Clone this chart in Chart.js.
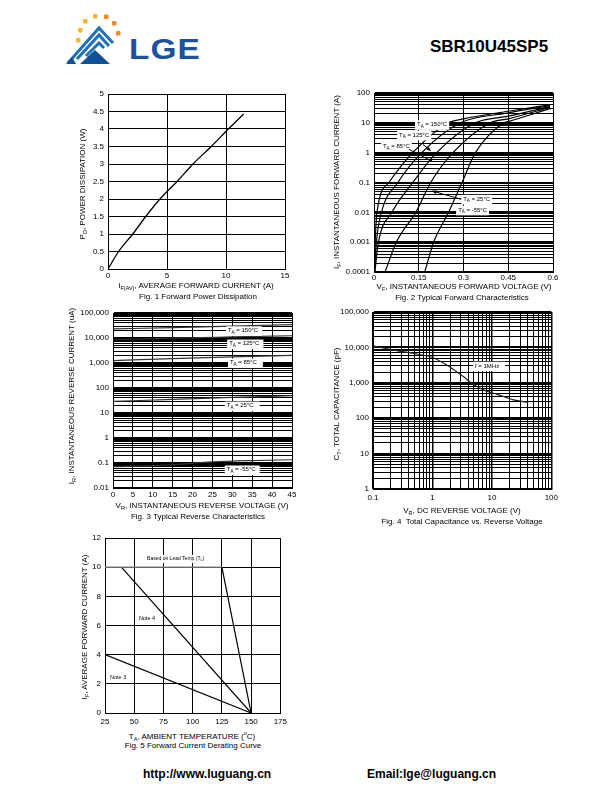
<!DOCTYPE html>
<html><head><meta charset="utf-8">
<script src="https://cdn.jsdelivr.net/npm/chart.js@4.4.1/dist/chart.umd.min.js"></script>
<style>
body{margin:0;width:612px;height:792px;position:relative;background:#fff;font-family:"Liberation Sans",Arial,sans-serif;overflow:hidden}
canvas{position:absolute}
.t{position:absolute;white-space:nowrap;font-size:8px;line-height:8px;color:#000;transform:translate(-50%,-50%)}
.v{position:absolute;white-space:nowrap;font-size:8px;line-height:8px;color:#000;transform:translate(-50%,-50%) rotate(-90deg)}
.t sub,.v sub{font-size:5.5px;vertical-align:-2px;line-height:0}
.hdr{position:absolute;white-space:nowrap;font-weight:bold;color:#000}
</style></head>
<body>
<svg style="position:absolute;left:0;top:0" width="240" height="80">
  <g fill="#f7b52c"><rect x="76" y="38" width="4.5" height="4.5" rx="1"/><rect x="78" y="28" width="4.5" height="4.5" rx="1"/><rect x="83" y="19" width="4.5" height="4.5" rx="1"/><rect x="93" y="14" width="4.5" height="4.5" rx="1"/></g>
  <g fill="#f08a24"><rect x="104" y="14.5" width="4.5" height="4.5" rx="1"/><rect x="112" y="21" width="4.5" height="4.5" rx="1"/><rect x="116" y="31" width="4.5" height="4.5" rx="1"/></g>
  <g fill="none" stroke="#1c6fba" stroke-width="3" stroke-linejoin="miter">
    <polyline points="68,63 99,28 113,43"/>
    <polyline points="77,59 99,35 109,46"/>
    <polyline points="86,56 99,43 104,48"/>
  </g>
  <polygon points="80,64 95,50 110,64" fill="#0f4f96"/>
  <polygon points="66,64 72,57 76,64" fill="#0f4f96"/>
</svg>
<div class="hdr" style="left:129px;top:33px;font-size:29px;color:#1d519f;letter-spacing:1px;transform:scaleX(1.15);transform-origin:left">LGE</div>
<div class="hdr" style="left:430px;top:37px;font-size:17px">SBR10U45SP5</div>

<canvas id="c1" width="217" height="199" style="left:78px;top:84px"></canvas>
<canvas id="c2" width="225" height="203" style="left:338px;top:83px"></canvas>
<canvas id="c3" width="221" height="199" style="left:79px;top:303px"></canvas>
<canvas id="c4" width="223" height="201" style="left:339px;top:302px"></canvas>
<canvas id="c5" width="206" height="199" style="left:85px;top:528px"></canvas>

<div class="t" style="left:196px;top:286px">I<sub>F(AV)</sub>, AVERAGE FORWARD CURRENT (A)</div>
<div class="t" style="left:198px;top:297px">Fig. 1 Forward Power Dissipation</div>
<div class="v" style="left:83px;top:184px">P<sub>D</sub>, POWER DISSIPATION (W)</div>

<div class="t" style="left:464px;top:287px">V<sub>F</sub>, INSTANTANEOUS FORWARD VOLTAGE (V)</div>
<div class="t" style="left:462px;top:298px">Fig. 2 Typical Forward Characteristics</div>
<div class="v" style="left:337px;top:182px">I<sub>F</sub>, INSTANTANEOUS FORWARD CURRENT (A)</div>

<div class="t" style="left:202px;top:506px">V<sub>R</sub>, INSTANTANEOUS REVERSE VOLTAGE (V)</div>
<div class="t" style="left:198px;top:517px">Fig. 3 Typical Reverse Characteristics</div>
<div class="v" style="left:72px;top:396px">I<sub>R</sub>, INSTANTANEOUS REVERSE CURRENT (uA)</div>

<div class="t" style="left:462px;top:511px">V<sub>R</sub>, DC REVERSE VOLTAGE (V)</div>
<div class="t" style="left:462px;top:522px">Fig. 4&nbsp; Total Capacitance vs. Reverse Voltage</div>
<div class="v" style="left:337px;top:404px">C<sub>T</sub>, TOTAL CAPACITANCE (pF)</div>

<div class="t" style="left:192px;top:735px">T<sub>A</sub>, AMBIENT TEMPERATURE (<sup style="font-size:5.5px">o</sup>C)</div>
<div class="t" style="left:193px;top:746px">Fig. 5 Forward Current Derating Curve</div>
<div class="v" style="left:85px;top:627px">I<sub>F</sub>, AVERAGE FORWARD CURRENT (A)</div>

<div class="hdr" style="left:143px;top:767px;font-size:12px">http://www.luguang.cn</div>
<div class="hdr" style="left:367px;top:767px;font-size:12px">Email:lge@luguang.cn</div>

<script>
// ---------- Fig. 1 data ----------
const fig1Current = [0, 0.9, 2.1, 3.2, 4.4, 5.85, 7.2, 8.75, 10.2, 11.5];
const fig1Power   = [0, 0.5, 1.0, 1.5, 2.0, 2.5, 3.0, 3.5, 4.0, 4.43];

// ---------- Fig. 2 data ----------
const fig2V150 = [0.001, 0.004, 0.01, 0.05, 0.13, 0.25, 0.30, 0.45, 0.59];
const fig2I150 = [0.0001, 0.001, 0.01, 0.1, 1, 10, 13.6, 24.5, 40];
const fig2V125 = [0.002, 0.008, 0.025, 0.08, 0.16, 0.29, 0.45, 0.59];
const fig2I125 = [0.0001, 0.001, 0.01, 0.1, 1, 10, 21.5, 38];
const fig2V85  = [0.003, 0.015, 0.06, 0.13, 0.21, 0.34, 0.45, 0.59];
const fig2I85  = [0.0001, 0.001, 0.01, 0.1, 1, 10, 16.7, 35];
const fig2V25  = [0.037, 0.075, 0.14, 0.19, 0.265, 0.39, 0.45, 0.59];
const fig2I25  = [0.0001, 0.001, 0.01, 0.1, 1, 10, 13.6, 33];
const fig2Vm55 = [0.17, 0.2, 0.25, 0.295, 0.34, 0.435, 0.45, 0.59];
const fig2Im55 = [0.0001, 0.001, 0.01, 0.1, 1, 10, 11, 30];
const fig2XTicks = [0, 0.15, 0.3, 0.45, 0.6];
const fig2XLabels = ['0', '0.15', '0.3', '0.45', '0.6'];
const fig2YDecades = [0.0001, 0.001, 0.01, 0.1, 1, 10, 100];
const fig2YLabels = ['0.0001', '0.001', '0.01', '0.1', '1', '10', '100'];

// ---------- Fig. 3 data ----------
const fig3V = [0, 15, 30, 45];
const fig3I150 = [23000, 26000, 30000, 34000];
const fig3I125 = [8500, 9800, 11000, 12300];
const fig3I85  = [1250, 1500, 1750, 2000];
const fig3I25  = [29, 35, 42, 49];
const fig3Vm55 = [0, 10, 15, 25, 35, 45];
const fig3Im55 = [0.072, 0.078, 0.085, 0.11, 0.125, 0.135];
const fig3YDecades = [0.01, 0.1, 1, 10, 100, 1000, 10000, 100000];
const fig3YLabels = ['0.01', '0.1', '1', '10', '100', '1,000', '10,000', '100,000'];

// ---------- Fig. 4 data ----------
const fig4V = [0.1, 0.25, 0.55, 1, 1.74, 3.3, 4.9, 8.1, 12, 23, 41];
const fig4C = [11000, 8100, 6500, 5200, 3200, 1500, 890, 580, 480, 330, 280];
const fig4XDecades = [0.1, 1, 10, 100];
const fig4XLabels = ['0.1', '1', '10', '100'];
const fig4YDecades = [1, 10, 100, 1000, 10000, 100000];
const fig4YLabels = ['1', '10', '100', '1,000', '10,000', '100,000'];

// ---------- Fig. 5 data ----------
const fig5LeadT = [25, 125, 150];
const fig5LeadI = [10, 10, 0];
const fig5Note4T = [39, 150];
const fig5Note4I = [10, 0];
const fig5Note3T = [25, 150];
const fig5Note3I = [4, 0];

// ---------- helpers ----------
const FONT = {family: '"Liberation Sans", Arial, sans-serif', size: 8};
function pts(xs, ys) { return xs.map((x, i) => ({x, y: ys[i]})); }
function logTickValues(min, max) {
  const t = [];
  const e0 = Math.round(Math.log10(min)), e1 = Math.round(Math.log10(max));
  for (let e = e0; e < e1; e++) for (let m = 1; m < 10; m++) t.push(parseFloat((m * Math.pow(10, e)).toPrecision(3)));
  t.push(max);
  return t;
}
function isIn(v, arr) { return arr.some(d => Math.abs(d - v) / d < 1e-6); }
function labelFor(v, arr, labels) { const i = arr.findIndex(d => Math.abs(d - v) / Math.abs(d || 1) < 1e-6 || (d === 0 && Math.abs(v) < 1e-9)); return i >= 0 ? labels[i] : ''; }

function axis(o) {
  const s = {
    type: o.type, min: o.min, max: o.max,
    ticks: {font: FONT, color: '#000', padding: o.pad, autoSkip: false, maxRotation: 0, minRotation: 0},
    grid: {color: '#000', lineWidth: o.lw || 1, drawTicks: false},
    border: {color: '#000', width: 1},
    afterFit: o.fit
  };
  if (o.step) s.ticks.stepSize = o.step;
  if (o.values) s.afterBuildTicks = sc => { sc.ticks = o.values.map(v => ({value: v})); };
  if (o.cb) s.ticks.callback = o.cb;
  return s;
}

function notes(items) {
  return {
    id: 'notes',
    afterDatasetsDraw(chart) {
      const ctx = chart.ctx, xs = chart.scales.x, ys = chart.scales.y;
      ctx.save();
      items.forEach(it => {
        if (it.arrow) {
          const x1 = xs.getPixelForValue(it.arrow[0]), y1 = ys.getPixelForValue(it.arrow[1]);
          const x2 = xs.getPixelForValue(it.arrow[2]), y2 = ys.getPixelForValue(it.arrow[3]);
          ctx.strokeStyle = '#000'; ctx.fillStyle = '#000'; ctx.lineWidth = 1;
          ctx.beginPath(); ctx.moveTo(x1, y1); ctx.lineTo(x2, y2); ctx.stroke();
          const a = Math.atan2(y2 - y1, x2 - x1), L = 4.5, W = 0.45;
          ctx.beginPath(); ctx.moveTo(x2, y2);
          ctx.lineTo(x2 - L * Math.cos(a - W), y2 - L * Math.sin(a - W));
          ctx.lineTo(x2 - L * Math.cos(a + W), y2 - L * Math.sin(a + W));
          ctx.closePath(); ctx.fill();
          return;
        }
        const f = it.size || 6, fs = f * 0.75;
        const x = xs.getPixelForValue(it.x), y = ys.getPixelForValue(it.y);
        ctx.font = f + 'px "Liberation Sans", Arial, sans-serif';
        const w1 = ctx.measureText(it.main).width, w3 = ctx.measureText(it.rest || '').width;
        ctx.font = fs + 'px "Liberation Sans", Arial, sans-serif';
        const w2 = ctx.measureText(it.sub || '').width;
        const w = w1 + w2 + w3;
        if (it.box !== false) {
          ctx.fillStyle = '#fff';
          ctx.fillRect(x - 2, y - f * 0.7, w + 4 + (it.extra || 0), f * 1.6);
        }
        ctx.fillStyle = '#000'; ctx.textBaseline = 'middle'; ctx.textAlign = 'left';
        ctx.font = f + 'px "Liberation Sans", Arial, sans-serif';
        ctx.fillText(it.main, x, y);
        ctx.font = fs + 'px "Liberation Sans", Arial, sans-serif';
        if (it.sub) ctx.fillText(it.sub, x + w1, y + f * 0.35);
        ctx.font = f + 'px "Liberation Sans", Arial, sans-serif';
        if (it.rest) ctx.fillText(it.rest, x + w1 + w2, y);
      });
      ctx.restore();
    }
  };
}

function line(data, extra) {
  return Object.assign({data, showLine: true, borderColor: '#000', borderWidth: 1.2, pointRadius: 0, fill: false, cubicInterpolationMode: 'monotone'}, extra || {});
}

function makeChart(id, datasets, xs, ys, pad, plugins) {
  return new Chart(document.getElementById(id), {
    type: 'scatter',
    data: {datasets},
    options: {
      responsive: false, animation: false, events: [],
      layout: {padding: {top: pad.t, right: pad.r, left: 0, bottom: 0}},
      plugins: {legend: {display: false}, tooltip: {enabled: false}},
      scales: {x: xs, y: ys}
    },
    plugins: plugins || []
  });
}

// ---------- Fig. 1 ----------
makeChart('c1',
  [line(pts(fig1Current, fig1Power), {borderWidth: 1.3})],
  axis({type: 'linear', min: 0, max: 15, step: 5, pad: 2, fit: s => { s.height = 14; }}),
  axis({type: 'linear', min: 0, max: 5, step: 0.5, pad: 4, fit: s => { s.width = 30; }, cb: v => String(v)}),
  {t: 10, r: 10});

// ---------- Fig. 2 ----------
const fig2Y = axis({type: 'logarithmic', min: 0.0001, max: 100, pad: 4, fit: s => { s.width = 36; },
  values: logTickValues(0.0001, 100), cb: v => labelFor(v, fig2YDecades, fig2YLabels)});
fig2Y.grid.lineWidth = c => (c.tick && isIn(c.tick.value, fig2YDecades)) ? 2 : 1;
makeChart('c2',
  [line(pts(fig2V150, fig2I150)), line(pts(fig2V125, fig2I125)), line(pts(fig2V85, fig2I85)),
   line(pts(fig2V25, fig2I25)), line(pts(fig2Vm55, fig2Im55))],
  axis({type: 'linear', min: 0, max: 0.6, pad: 1, fit: s => { s.height = 14; }, values: fig2XTicks,
    cb: v => labelFor(v, fig2XTicks, fig2XLabels)}),
  fig2Y, {t: 10, r: 10},
  [notes([
    {x: 0.144, y: 8.8, main: 'T', sub: 'A', rest: ' = 150°C'},
    {x: 0.084, y: 3.9, main: 'T', sub: 'A', rest: ' = 125°C'},
    {x: 0.03, y: 1.6, main: 'T', sub: 'A', rest: ' = 85°C'},
    {arrow: [0.164, 1.9, 0.19, 1.15]},
    {arrow: [0.117, 1.29, 0.197, 0.5]},
    {arrow: [0.3, 0.026, 0.195, 0.052]},
    {x: 0.299, y: 0.028, main: 'T', sub: 'A', rest: ' = 25°C'},
    {x: 0.282, y: 0.012, main: 'T', sub: 'A', rest: ' = -55°C'}
  ])]);

// ---------- Fig. 3 ----------
const fig3Y = axis({type: 'logarithmic', min: 0.01, max: 100000, pad: 4, fit: s => { s.width = 34; },
  values: logTickValues(0.01, 100000), cb: v => labelFor(v, fig3YDecades, fig3YLabels)});
fig3Y.grid.lineWidth = c => (c.tick && isIn(c.tick.value, fig3YDecades)) ? 2 : 1;
makeChart('c3',
  [line(pts(fig3V, fig3I150), {borderColor: '#333'}), line(pts(fig3V, fig3I125), {borderColor: '#333'}),
   line(pts(fig3V, fig3I85), {borderColor: '#333'}), line(pts(fig3V, fig3I25), {borderColor: '#333'}),
   line(pts(fig3Vm55, fig3Im55), {borderColor: '#333'})],
  axis({type: 'linear', min: 0, max: 45, step: 5, pad: 2, fit: s => { s.height = 14; }}),
  fig3Y, {t: 10, r: 8},
  [notes([
    {x: 28.9, y: 20000, main: 'T', sub: 'A', rest: ' = 150°C', extra: 2},
    {x: 29.2, y: 5900, main: 'T', sub: 'A', rest: ' = 125°C', extra: 2},
    {x: 29.4, y: 1030, main: 'T', sub: 'A', rest: ' = 85°C', extra: 4},
    {x: 28.6, y: 19.5, main: 'T', sub: 'A', rest: ' = 25°C', extra: 4},
    {x: 28.6, y: 0.054, main: 'T', sub: 'A', rest: ' = -55°C', extra: 2}
  ])]);

// ---------- Fig. 4 ----------
const fig4X = axis({type: 'logarithmic', min: 0.1, max: 100, pad: 4, fit: s => { s.height = 14; },
  values: logTickValues(0.1, 100), cb: v => labelFor(v, fig4XDecades, fig4XLabels)});
fig4X.grid.lineWidth = c => (c.tick && isIn(c.tick.value, fig4XDecades)) ? 1.5 : 1;
const fig4Y = axis({type: 'logarithmic', min: 1, max: 100000, pad: 4, fit: s => { s.width = 34; },
  values: logTickValues(1, 100000), cb: v => labelFor(v, fig4YDecades, fig4YLabels)});
fig4Y.grid.lineWidth = c => (c.tick && isIn(c.tick.value, fig4YDecades)) ? 2 : 1;
makeChart('c4',
  [line(pts(fig4V, fig4C), {borderColor: '#222'})],
  fig4X, fig4Y, {t: 10, r: 10},
  [notes([{x: 5.2, y: 3000, main: 'f = 1MHz', extra: 4}])]);

// ---------- Fig. 5 ----------
makeChart('c5',
  [line(pts(fig5LeadT, fig5LeadI), {cubicInterpolationMode: 'default', tension: 0,
     segment: {borderColor: c => c.p0DataIndex === 0 ? '#8a8a8a' : '#000'}}),
   line(pts(fig5Note4T, fig5Note4I), {cubicInterpolationMode: 'default', tension: 0}),
   line(pts(fig5Note3T, fig5Note3I), {cubicInterpolationMode: 'default', tension: 0})],
  axis({type: 'linear', min: 25, max: 175, step: 25, pad: 4, fit: s => { s.height = 14; }}),
  axis({type: 'linear', min: 0, max: 12, step: 2, pad: 4, fit: s => { s.width = 20; }}),
  {t: 10, r: 10},
  [notes([
    {x: 61, y: 10.6, main: 'Based on Lead Temp (T', sub: 'L', rest: ')', size: 5},
    {x: 54, y: 6.47, main: 'Note 4', size: 5.5, box: false},
    {x: 29.3, y: 2.42, main: 'Note 3', size: 5.5, box: false}
  ])]);
</script>
</body></html>
